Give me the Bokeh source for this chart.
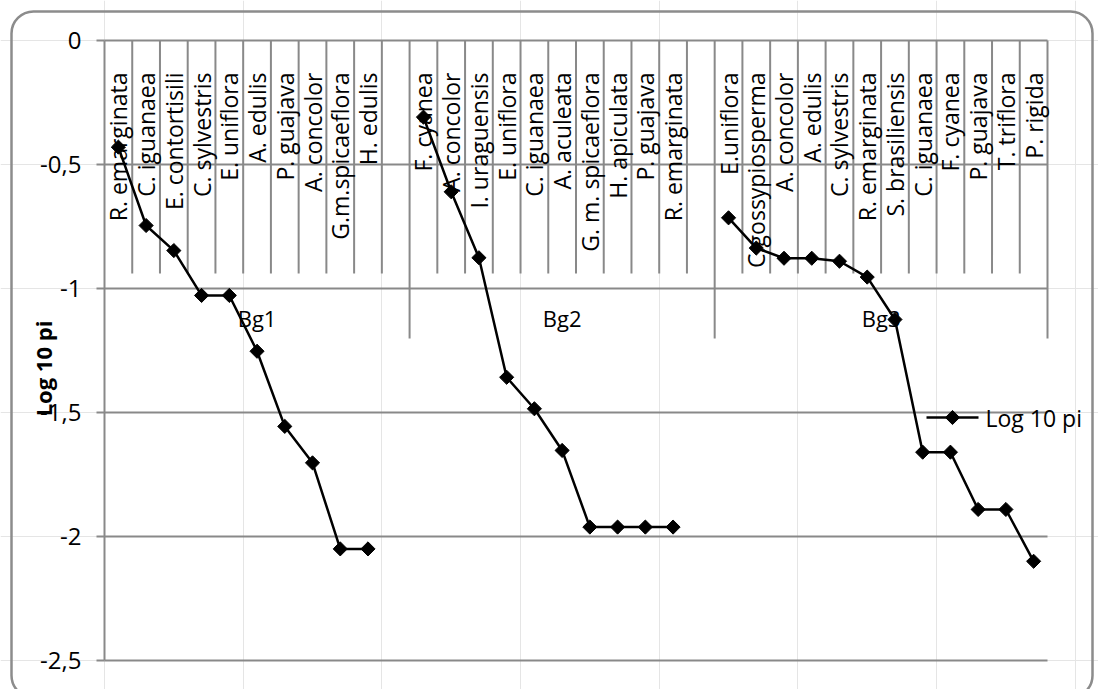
import numpy as np
from bokeh.plotting import figure
from bokeh.models import ColumnDataSource, Range1d
from bokeh.embed import file_html
from bokeh.resources import INLINE
from bokeh.core.properties import value

# ---------------- data ----------------
groups = ["Bg1", "Bg2", "Bg3"]

bg1_species = ["R. emarginata", "C. iguanaea", "E. contortisili", "C. sylvestris",
               "E. uniflora", "A. edulis", "P. guajava", "A. concolor",
               "G.m.spicaeflora", "H. edulis", ""]
bg1_values = [-0.43, -0.746, -0.847, -1.028, -1.028, -1.253, -1.556, -1.703,
              -2.05, -2.05]

bg2_species = ["F. cyanea", "A. concolor", "I. uraguensis", "E. uniflora",
               "C. iguanaea", "A. aculeata", "G. m. spicaeflora", "H. apiculata",
               "P. guajava", "R. emarginata", ""]
bg2_values = [-0.309, -0.61, -0.876, -1.358, -1.485, -1.653, -1.962, -1.962,
              -1.962, -1.962]

bg3_species = ["E.uniflora", "C.gossypiosperma", "A. concolor", "A. edulis",
               "C. sylvestris", "R. emarginata", "S. brasiliensis", "C. iguanaea",
               "F. cyanea", "P. guajava", "T. triflora", "P. rigida"]
bg3_values = [-0.715, -0.837, -0.878, -0.878, -0.89, -0.954, -1.125, -1.66,
              -1.66, -1.891, -1.891, -2.1]

y_ticks = [0, -0.5, -1, -1.5, -2, -2.5]
y_tick_labels = ["0", "-0,5", "-1", "-1,5", "-2", "-2,5"]
series_name = "Log 10 pi"
axis_title = "Log 10 pi"

# ---------------- layout ----------------
W, H = 1098, 689
PL, PR, PT, PB = 104, 1047, 40, 660          # plot area in canvas pixels
Y_MAX, Y_MIN = y_ticks[0], y_ticks[-1]

species_lists = [bg1_species, bg2_species, bg3_species]
value_lists = [bg1_values, bg2_values, bg3_values]
n_cat = sum(len(s) for s in species_lists)

sx = (PR - PL) / n_cat
sy = (PB - PT) / (Y_MAX - Y_MIN)


def dx(px):
    return (px - PL) / sx


def dy(py):
    return Y_MAX - (py - PT) / sy


FONT = value("Open Sans")
GRAY = "#898989"

p = figure(width=W, height=H,
           x_range=Range1d(dx(0), dx(W)), y_range=Range1d(dy(H), dy(0)),
           output_backend="svg", toolbar_location=None,
           x_axis_location=None, y_axis_location=None,
           min_border=0, outline_line_color=None,
           background_fill_color="white", border_fill_color="white")

# chart-area rounded border
p.quad(left=[dx(11)], right=[dx(1092)], top=[dy(11)], bottom=[dy(697)],
       fill_color=None, line_color="#8c8c8c", line_width=2.5, border_radius=22)

# horizontal gridlines (incl. category axis line at 0)
p.segment(x0=[0] * len(y_ticks), x1=[n_cat] * len(y_ticks), y0=y_ticks, y1=y_ticks,
          line_color=GRAY, line_width=2)
# value axis line and ticks
p.segment(x0=[0], x1=[0], y0=[Y_MAX], y1=[Y_MIN], line_color=GRAY, line_width=2)
p.segment(x0=[dx(96)] * len(y_ticks), x1=[0] * len(y_ticks), y0=y_ticks, y1=y_ticks,
          line_color=GRAY, line_width=2)
p.text(x=[dx(81)] * len(y_ticks), y=y_ticks, text=y_tick_labels,
       text_font=FONT, text_font_size="24px", text_align="right",
       text_baseline="middle", text_color="black")

# category tick lines
offsets = np.cumsum([0] + [len(s) for s in species_lists])
boundaries = set(int(o) for o in offsets)
inner = [k for k in range(1, n_cat) if k not in boundaries]
outer = [k for k in sorted(boundaries) if k > 0]
p.segment(x0=inner, x1=inner, y0=[Y_MAX] * len(inner), y1=[dy(273)] * len(inner),
          line_color=GRAY, line_width=2)
p.segment(x0=outer, x1=outer, y0=[Y_MAX] * len(outer), y1=[dy(338)] * len(outer),
          line_color=GRAY, line_width=2)

# category labels
cat_x, cat_txt = [], []
for off, names in zip(offsets, species_lists):
    for i, nm in enumerate(names):
        cat_x.append(off + i + 0.5)
        cat_txt.append(nm)
p.text(x=cat_x, y=[dy(72)] * len(cat_x), text=cat_txt, angle=np.pi / 2,
       text_font=FONT, text_font_size="23px", text_align="right",
       text_baseline="middle", text_color="black")

# group labels
g_x = [(offsets[i] + offsets[i + 1]) / 2 for i in range(len(groups))]
p.text(x=g_x, y=[dy(317)] * len(groups), text=groups,
       text_font=FONT, text_font_size="22px", text_align="center",
       text_baseline="middle", text_color="black")

# series: one broken line per group
for off, vals in zip(offsets, value_lists):
    xs = [off + i + 0.5 for i in range(len(vals))]
    src = ColumnDataSource(dict(x=xs, y=vals))
    p.line("x", "y", source=src, line_color="black", line_width=2.5)
    p.scatter("x", "y", source=src, marker="square", angle=np.pi / 4, size=10,
              fill_color="black", line_color="black")

# value axis title
p.text(x=[dx(42)], y=[dy(368)], text=[axis_title], angle=np.pi / 2,
       text_font=FONT, text_font_size="22px", text_font_style="bold",
       text_align="center", text_baseline="middle", text_color="black")

# legend
ly = dy(417)
p.segment(x0=[dx(926)], x1=[dx(978)], y0=[ly], y1=[ly], line_color="black", line_width=2.5)
p.scatter(x=[dx(952)], y=[ly], marker="square", angle=np.pi / 4, size=10,
          fill_color="black", line_color="black")
p.text(x=[dx(985)], y=[ly], text=[series_name], text_font=FONT, text_font_size="23px",
       text_align="left", text_baseline="middle", text_color="black")

open("out.html", "w").write(file_html(p, INLINE))
